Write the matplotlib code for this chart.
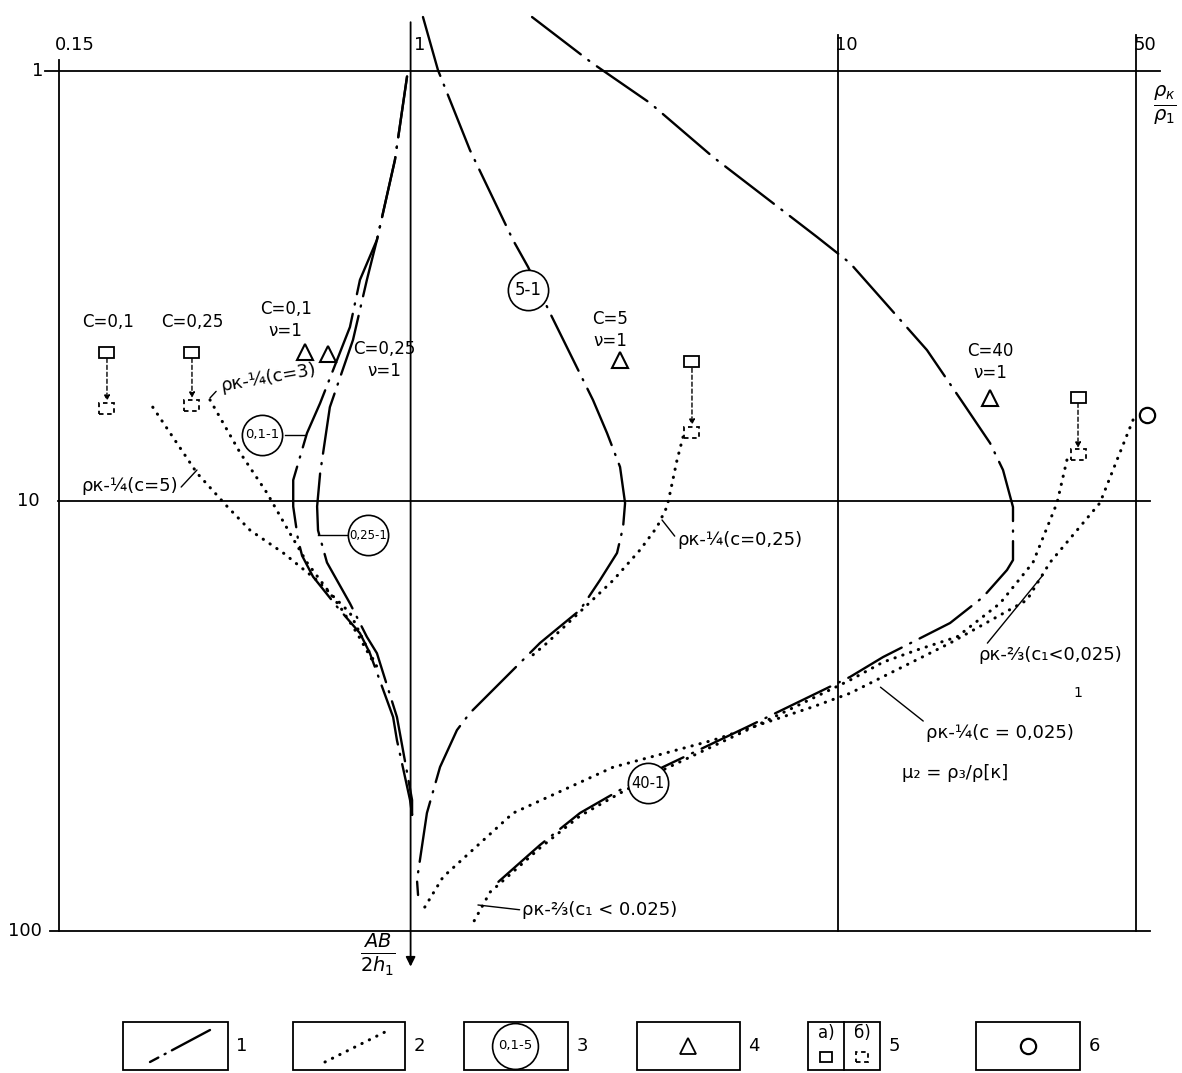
import numpy as np
import matplotlib.pyplot as plt
from matplotlib.patches import Rectangle
from matplotlib.transforms import ScaledTranslation

plt.rcParams['font.family'] = ['DejaVu Sans']
plt.rcParams['mathtext.fontset'] = 'dejavusans'

# x = ρк/ρ1, y = AB/2h1
# curve 0,1-1
c01_x = [0.981, 0.919, 0.834, 0.761, 0.721, 0.614, 0.572, 0.531, 0.531, 0.545, 0.557, 0.591, 0.672, 0.761, 0.803, 0.910, 0.929, 0.997, 1.008]
c01_y = [1.03, 1.61, 2.47, 3.06, 3.94, 5.92, 6.95, 8.94, 10.3, 12.3, 13.4, 15.0, 17.6, 20.3, 22.6, 31.8, 36.0, 49.6, 53.7]
# curve 0,25-1
c025_x = [0.981, 0.919, 0.834, 0.790, 0.733, 0.647, 0.614, 0.604, 0.607, 0.637, 0.721, 0.790, 0.834, 0.929, 1.008, 1.008]
c025_y = [1.03, 1.61, 2.47, 3.06, 4.22, 6.05, 8.61, 10.3, 11.7, 13.9, 17.3, 20.7, 22.6, 31.8, 49.6, 53.7]
# curve 5-1
c5_x = [1.069, 1.159, 1.377, 1.737, 1.884, 2.121, 2.674, 2.884, 3.094, 3.179, 3.145, 3.044, 2.777, 2.493, 2.009, 1.377, 1.284, 1.172, 1.092, 1.035, 1.041]
c5_y = [0.749, 0.995, 1.527, 2.472, 2.856, 3.655, 5.824, 6.950, 8.334, 10.11, 11.50, 13.21, 15.27, 17.93, 21.39, 31.12, 34.10, 41.56, 53.16, 76.09, 82.47]
# curve 40-1
c40_x = [1.925, 2.660, 3.637, 5.108, 8.950, 10.69, 16.19, 19.67, 22.75, 24.40, 25.75, 25.75, 24.93, 21.90, 18.34, 12.78, 10.69, 6.136, 3.901, 3.094, 2.493, 2.009, 1.594]
c40_y = [0.749, 0.958, 1.187, 1.585, 2.432, 2.796, 4.456, 5.918, 7.331, 8.470, 10.33, 13.72, 14.47, 16.73, 19.22, 23.06, 25.66, 33.54, 41.56, 47.00, 53.16, 63.10, 77.33]

# asymptotes ρк^-1/4, ρк^-2/3
q5_x = [0.249, 0.316, 0.372, 0.421, 0.503, 0.604, 0.721, 0.790, 0.834, 0.848]
q5_y = [6.05, 8.61, 10.3, 11.7, 13.2, 15.3, 18.2, 21.9, 24.3, 25.0]
q3_x = [0.339, 0.399, 0.461, 0.522, 0.572, 0.683, 0.749, 0.812]
q3_y = [5.82, 7.73, 9.58, 11.9, 13.9, 17.6, 20.3, 23.4]
q025_x = [4.345, 4.207, 4.052, 3.987, 3.776, 3.445, 2.979, 2.493, 2.086, 1.904]
q025_y = [7.10, 8.03, 9.58, 10.3, 11.5, 13.0, 15.3, 18.1, 21.4, 23.1]
t23_x = [34.44, 32.65, 28.68, 24.01, 19.04, 15.35, 12.78, 10.69, 6.136, 3.901, 3.094, 2.493, 2.009, 1.594, 1.535, 1.400]
t23_y = [8.03, 10.1, 13.9, 17.3, 20.7, 22.2, 23.7, 26.1, 34.1, 42.2, 47.8, 54.0, 64.1, 78.6, 81.2, 95.8]
q0025_x = [49.19, 45.11, 41.16, 31.43, 27.76, 18.34, 10.69, 8.759, 5.108, 2.979, 1.737, 1.191, 1.069]
q0025_y = [6.48, 8.03, 10.1, 13.9, 17.0, 21.4, 28.0, 30.1, 36.0, 41.6, 53.2, 74.9, 89.4]

# point symbols
sq_x = [0.1945, 0.3076, 4.560, 36.56]
sq_y = [4.505, 4.505, 4.750, 5.731]
br_y = [6.078, 5.981, 6.912, 7.816]
tri_x = [0.5658, 0.6404, 3.094, 22.75]
tri_y = [4.505, 4.553, 4.700, 5.762]
ring_x, ring_y = [53.05], [6.310]

fig = plt.figure(figsize=(11.82, 10.73), dpi=100)
ax = fig.add_axes([0, 0, 1, 1])
ax.set_xscale('log')
ax.set_yscale('log')
ax.set_xlim(10 ** (-410.6 / 427), 10 ** ((1182 - 410.6) / 427))
ax.set_ylim(10 ** ((1073 - 71) / 430), 10 ** (-71 / 430))
ax.axis('off')

# frame lines at 0.15, 1, 10, 50 and 1, 10, 100
K = dict(color='k', lw=1.3, zorder=1)
ax.plot([0.15, 0.15], [0.943, 100], **K)
ax.plot([10, 10], [0.825, 100], **K)
ax.plot([50, 50], [0.825, 100], **K)
ax.plot([0.139, 56.9], [1, 1], **K)
ax.plot([0.149, 53.9], [10, 10], **K)
ax.plot([0.143, 53.9], [100, 100], **K)
ax.annotate('', xy=(1, 121), xytext=(1, 0.77),
            arrowprops=dict(arrowstyle='-|>', lw=1.3, color='k', mutation_scale=14,
                            shrinkA=0, shrinkB=0))

fs = 13
ax.text(0.1637, 0.87, '0.15', ha='center', va='center', fontsize=fs)
ax.text(1.05, 0.87, '1', ha='center', va='center', fontsize=fs)
ax.text(10.5, 0.87, '10', ha='center', va='center', fontsize=fs)
ax.text(52.5, 0.87, '50', ha='center', va='center', fontsize=fs)
ax.text(0.134, 1.0, '1', ha='center', va='center', fontsize=fs)
ax.text(0.127, 10, '10', ha='center', va='center', fontsize=fs)
ax.text(0.125, 100, '100', ha='center', va='center', fontsize=fs)
ax.text(58.5, 1.2, r'$\frac{\rho_{к}}{\rho_1}$', ha='center', va='center', fontsize=20)
ax.text(0.839, 113.7, r'$\frac{AB}{2h_1}$', ha='center', va='center', fontsize=20)

DD = dict(color='k', lw=1.7, dashes=(26, 4, 0.5, 4), dash_capstyle='round', zorder=3)
DOT = dict(color='k', lw=2.2, dashes=(0.1, 2.6), dash_capstyle='round', zorder=3)

ax.plot(c01_x, c01_y, **DD)
ax.plot(c025_x, c025_y, **DD)
ax.plot(c5_x, c5_y, **DD)
ax.plot(c40_x, c40_y, **DD)
for qx, qy in [(q5_x, q5_y), (q3_x, q3_y), (q025_x, q025_y), (t23_x, t23_y), (q0025_x, q0025_y)]:
    ax.plot(qx, qy, **DOT)


def box(x, y, dashed=False, a=ax, w=0.15, h=0.11):
    tr = fig.dpi_scale_trans + ScaledTranslation(x, y, a.transData)
    a.add_patch(Rectangle((-w / 2, -h / 2), w, h, transform=tr, fc='white', ec='k', lw=1.3,
                          ls=(0, (2.5, 2)) if dashed else '-', zorder=4))


for x, ys, yb in zip(sq_x, sq_y, br_y):
    box(x, ys)
    box(x, yb, dashed=True)
    ax.annotate('', xy=(x, yb), xytext=(x, ys),
                arrowprops=dict(arrowstyle='-|>', ls=(0, (3, 2)), lw=1, color='k',
                                shrinkA=4.5, shrinkB=5, mutation_scale=8))

ax.plot(tri_x, tri_y, '^', ms=11, mfc='white', mec='k', mew=1.5, ls='none', zorder=4)
ax.plot(ring_x, ring_y, 'o', ms=11, mfc='white', mec='k', mew=1.6, ls='none', zorder=4)


def tag(s, x, y, size=11):
    ax.plot(x, y, 'o', ms=29, mfc='white', mec='k', mew=1.2, zorder=5)
    ax.text(x, y, s, ha='center', va='center', fontsize=size, zorder=6)


tag('5-1', 1.884, 3.231, 12)
tag('40-1', 3.597, 45.28, 10.5)
tag('0,1-1', 0.449, 7.02, 9.5)
tag('0,25-1', 0.795, 12.0, 8.5)
ax.plot([0.507, 0.567], [7.02, 7.02], color='k', lw=1, zorder=2)
ax.plot([0.608, 0.715], [12.0, 12.0], color='k', lw=1, zorder=2)

for s, x, y in [('C=0,1', 0.196, 3.83), ('C=0,25', 0.308, 3.83),
                ('C=0,1\nν=1', 0.51, 3.79), ('C=0,25\nν=1', 0.87, 4.70),
                ('C=5\nν=1', 2.93, 4.00), ('C=40\nν=1', 22.75, 4.75)]:
    ax.text(x, y, s, ha='center', va='center', fontsize=12, linespacing=1.3)

L = dict(arrowstyle='-', lw=1, color='k', shrinkA=0, shrinkB=0)
ax.annotate('ρк-¼(c=5)', xy=(0.316, 8.47), xytext=(0.2203, 9.25), fontsize=13,
            ha='center', va='center', arrowprops=dict(relpos=(1, 0.3), **L))
ax.annotate('ρк-¼(c=3)', xy=(0.339, 5.76), xytext=(0.4636, 5.176), fontsize=13,
            ha='center', va='center', rotation=10, arrowprops=dict(relpos=(0, 0.2), **L))
ax.annotate('ρк-¼(c=0,25)', xy=(3.88, 11.07), xytext=(5.91, 12.3), fontsize=13,
            ha='center', va='center', arrowprops=dict(relpos=(0, 0.5), **L))
ax.annotate('ρк-⅔(c₁<0,025)', xy=(30.27, 14.86), xytext=(31.4, 22.8), fontsize=13,
            ha='center', va='center', arrowprops=dict(relpos=(0.05, 1), **L))
ax.text(36.6, 27.9, '1', ha='center', va='center', fontsize=10)
ax.annotate('ρк-¼(c = 0,025)', xy=(12.6, 27.1), xytext=(24.0, 34.6), fontsize=13,
            ha='center', va='center', arrowprops=dict(relpos=(0.02, 0.9), **L))
ax.text(18.84, 42.9, 'μ₂ = ρ₃/ρ[к]', ha='center', va='center', fontsize=13)
ax.annotate('ρк-⅔(c₁ < 0.025)', xy=(1.438, 87.0), xytext=(2.777, 89.4), fontsize=13,
            ha='center', va='center', arrowprops=dict(relpos=(0, 0.5), **L))

# legend strip
lg = fig.add_axes([0, 0, 1, 1])
lg.patch.set_alpha(0)
lg.axis('off')
lg.set_xlim(0, 1182)
lg.set_ylim(1073, 0)
for i, (x0, x1) in enumerate([(123, 228), (293, 405), (464, 568), (637, 740), (808, 880), (976, 1080)]):
    lg.add_patch(Rectangle((x0, 1022), x1 - x0, 48, fill=False, ec='k', lw=1.3))
    lg.text(x1 + 14, 1046, str(i + 1), ha='center', va='center', fontsize=13)
lg.plot([844, 844], [1022, 1070], color='k', lw=1.3)
lg.plot([150, 210], [1062, 1030], color='k', lw=1.7, dashes=(4, 3, 0.5, 3, 40, 3), dash_capstyle='round')
lg.plot([325, 385], [1062, 1032], **DOT)
lg.plot(515, 1046, 'o', ms=33, mfc='white', mec='k', mew=1.2)
lg.text(515, 1046, '0,1-5', ha='center', va='center', fontsize=9.5)
lg.plot(688, 1046, '^', ms=11, mfc='white', mec='k', mew=1.3)
lg.text(826, 1033, 'а)', ha='center', va='center', fontsize=12)
lg.text(862, 1033, 'б)', ha='center', va='center', fontsize=12)
box(826, 1057, a=lg, w=0.12, h=0.1)
box(862, 1057, dashed=True, a=lg, w=0.12, h=0.1)
lg.plot(1028, 1046, 'o', ms=11, mfc='white', mec='k', mew=1.6)

fig.savefig('out.png', dpi=100)
